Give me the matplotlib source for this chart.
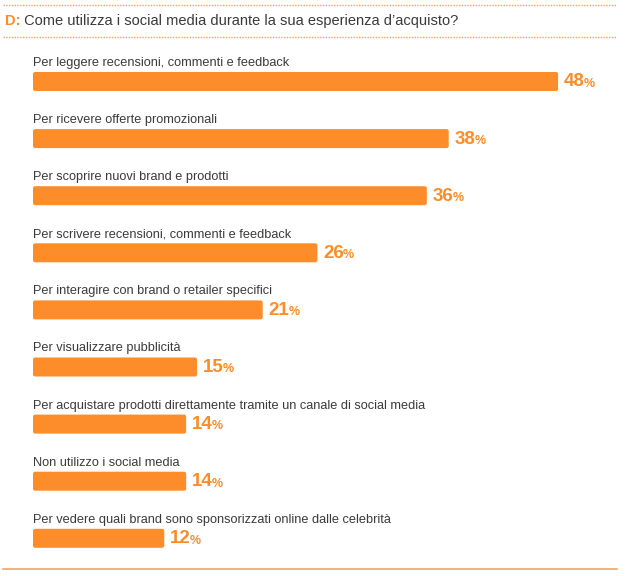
import matplotlib
matplotlib.use("Agg")
import matplotlib.pyplot as plt
from matplotlib.patches import FancyBboxPatch

categories = [
    "Per leggere recensioni, commenti e feedback",
    "Per ricevere offerte promozionali",
    "Per scoprire nuovi brand e prodotti",
    "Per scrivere recensioni, commenti e feedback",
    "Per interagire con brand o retailer specifici",
    "Per visualizzare pubblicità",
    "Per acquistare prodotti direttamente tramite un canale di social media",
    "Non utilizzo i social media",
    "Per vedere quali brand sono sponsorizzati online dalle celebrità",
]
values = [48, 38, 36, 26, 21, 15, 14, 14, 12]
title_prefix = "D:"
title_text = "Come utilizza i social media durante la sua esperienza d’acquisto?"

ORANGE = "#FD8D2A"
TEXT = "#3a3a3a"
FONT = "Liberation Sans"

W, H = 634, 576
fig = plt.figure(figsize=(W / 100, H / 100), dpi=100)
ax = fig.add_axes([0, 0, 1, 1])
px_per_unit = 10.94
x0 = 33
ax.set_xlim(-x0 / px_per_unit, (W - x0) / px_per_unit)
ax.set_ylim(H, 0)
ax.axis("off")

def px(xp):
    return (xp - x0) / px_per_unit

# decorative lines
ax.plot([px(3), px(617)], [5, 5], color="#F7A35C", lw=1.0, ls=(0, (1, 1)))
ax.plot([px(3), px(617)], [37, 37], color="#F7A35C", lw=1.0, ls=(0, (1, 1)))
ax.plot([px(3), px(617)], [569, 569], color="#F7A35C", lw=1.2)

# title
t = ax.text(px(5), 21, title_prefix, color=ORANGE, fontsize=10.5, fontweight="bold",
            family=FONT, va="center", ha="left")
ax.annotate(" " + title_text, xy=(1, 0), xycoords=t, va="bottom", ha="left",
            fontsize=10.5, color=TEXT, family=FONT)

bar_h = 19
first_center = 81.5
step = 57.1
centers = [first_center + step * i for i in range(len(values))]
bars = ax.barh(centers, values, height=bar_h, left=0, color=ORANGE, edgecolor="none")

# replace with slightly rounded versions of the same geometry
r = 0.2
for b in bars:
    b.set_visible(False)
    fb = FancyBboxPatch((b.get_x(), b.get_y()), b.get_width(), b.get_height(),
                        boxstyle=f"round,pad=0,rounding_size={r}",
                        mutation_aspect=px_per_unit,
                        facecolor=ORANGE, edgecolor="none")
    ax.add_patch(fb)

for c, cat, v in zip(centers, categories, values):
    ax.text(0, c - bar_h / 2 - 6, cat, fontsize=9.2, color=TEXT, family=FONT,
            va="baseline", ha="left")
    vt = ax.text(v + 6 / px_per_unit, c + 0.5, str(v), fontsize=13.5, fontweight="bold",
                 color=ORANGE, family=FONT, va="center", ha="left")
    ax.annotate("%", xy=(1, 0), xycoords=vt, va="bottom", ha="left",
                fontsize=9, fontweight="bold", color=ORANGE, family=FONT,
                xytext=(-0.8, 0.5), textcoords="offset points")

fig.savefig("out.png", dpi=100)
